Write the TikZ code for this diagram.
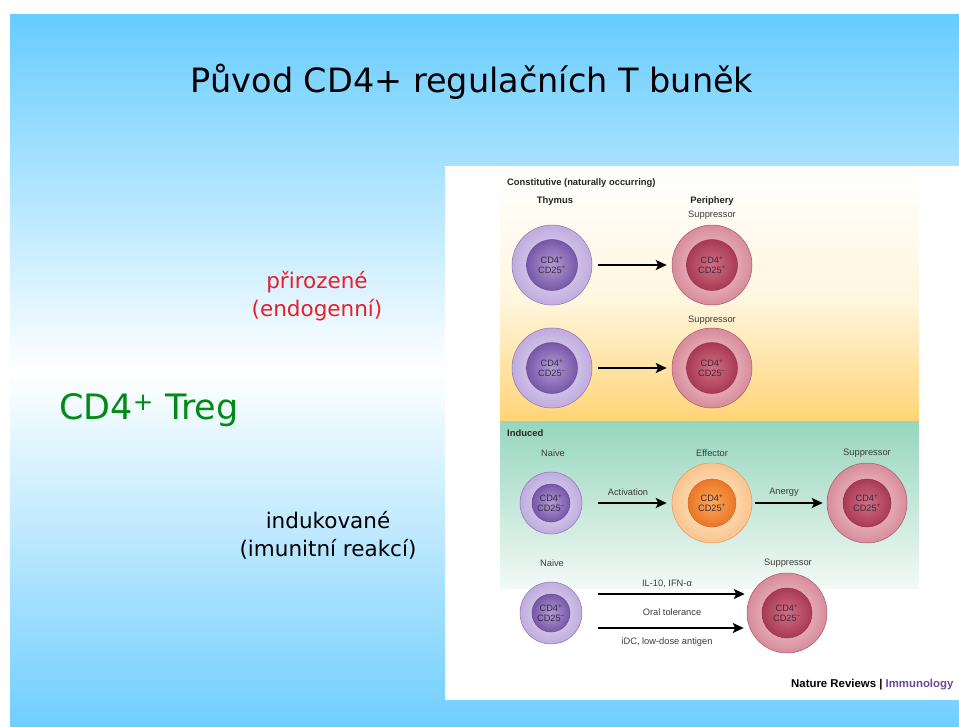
\documentclass[tikz,border=0pt]{standalone}
\usepackage{fontspec}
\setmainfont{DejaVu Sans}
\newfontfamily\arialf{Liberation Sans}
\usetikzlibrary{arrows.meta}
\definecolor{slideblue}{RGB}{102,204,255}
\definecolor{slideblueb}{RGB}{112,206,255}
\definecolor{cream}{RGB}{255,246,222}
\definecolor{panelyellow}{RGB}{255,212,118}
\definecolor{panelgreen}{RGB}{150,214,190}
\definecolor{panelgreenb}{RGB}{243,249,246}
\definecolor{pOutIn}{RGB}{232,222,244}
\definecolor{pOutOut}{RGB}{192,172,222}
\definecolor{pOutDraw}{RGB}{140,115,175}
\definecolor{pInIn}{RGB}{178,155,212}
\definecolor{pInOut}{RGB}{118,88,168}
\definecolor{pInDraw}{RGB}{105,78,150}
\definecolor{rOutIn}{RGB}{246,210,215}
\definecolor{rOutOut}{RGB}{215,140,155}
\definecolor{rOutDraw}{RGB}{170,85,105}
\definecolor{rInIn}{RGB}{210,110,130}
\definecolor{rInOut}{RGB}{168,58,84}
\definecolor{rInDraw}{RGB}{150,50,75}
\definecolor{oOutIn}{RGB}{255,238,212}
\definecolor{oOutOut}{RGB}{250,196,142}
\definecolor{oOutDraw}{RGB}{235,150,80}
\definecolor{oInIn}{RGB}{252,168,92}
\definecolor{oInOut}{RGB}{234,118,38}
\definecolor{oInDraw}{RGB}{215,110,40}
\definecolor{celltxt}{RGB}{55,45,60}
\definecolor{figtxt}{RGB}{60,60,60}
\definecolor{natpurple}{RGB}{110,72,150}
\definecolor{treggreen}{RGB}{0,140,20}
\definecolor{pirored}{RGB}{232,30,40}
\tikzset{
  cell/.style={circle, inner sep=0pt, line width=0.5pt},
  pout/.style={cell, inner color=pOutIn, outer color=pOutOut, draw=pOutDraw},
  rout/.style={cell, inner color=rOutIn, outer color=rOutOut, draw=rOutDraw},
  oout/.style={cell, inner color=oOutIn, outer color=oOutOut, draw=oOutDraw},
  celltext/.style={font=\arialf\fontsize{9.2}{9.6}\selectfont, text=celltxt, align=center},
  pin/.style={cell, celltext, inner color=pInIn, outer color=pInOut, draw=pInDraw},
  rin/.style={cell, celltext, inner color=rInIn, outer color=rInOut, draw=rInDraw},
  oin/.style={cell, celltext, inner color=oInIn, outer color=oInOut, draw=oInDraw},
  figlbl/.style={font=\arialf\fontsize{9.3}{10}\selectfont, text=figtxt, inner sep=0pt},
  figbold/.style={font=\arialf\bfseries\fontsize{9.4}{10}\selectfont, text=black!85, inner sep=0pt},
  arr/.style={line width=1.8pt, -{Stealth[length=11pt,width=10pt,inset=2.5pt]}},
  slidetxt/.style={align=center, inner sep=0pt}
}
\begin{document}
\begin{tikzpicture}[x=1pt,y=-1pt]
\useasboundingbox (0,0) rectangle (959,726);
\fill[white] (0,0) rectangle (959,726);
% slide background
\shade[top color=slideblue, bottom color=white] (10,14) rectangle (959,372);
\shade[top color=white, bottom color=slideblueb] (10,371) rectangle (959,726);
% figure background
\fill[white] (445,166) rectangle (959,700);
\shade[top color=white, bottom color=cream] (500,166) rectangle (919,300);
\shade[top color=cream, bottom color=panelyellow] (500,299.5) rectangle (919,421);
\shade[top color=panelgreen, bottom color=panelgreenb] (500,421) rectangle (919,588);

% title
\node[slidetxt, font=\fontsize{33.5}{38}\selectfont] (title) at (472,82) {Původ CD4+ regulačních T buněk};
% left texts
\node[slidetxt, text=pirored, font=\fontsize{21.5}{28}\selectfont] (piro) at (317,296) {přirozené\\(endogenní)};
\node[slidetxt, text=treggreen, font=\fontsize{35}{40}\selectfont] (treg) at (149,410) {CD4\textsuperscript{+} Treg};
\node[slidetxt, text=black, font=\fontsize{21.5}{28}\selectfont] (indu) at (328,535) {indukované\\(imunitní reakcí)};

% headers
\node[figbold, anchor=west] (hconst) at (507,183) {Constitutive (naturally occurring)};
\node[figbold] (hthym) at (555,201) {Thymus};
\node[figbold] (hperi) at (712,201) {Periphery};
\node[figlbl] (hsup1) at (712,215) {Suppressor};
\node[figlbl] (hsup2) at (712,320) {Suppressor};
\node[figbold, anchor=west] (hind) at (507,433) {Induced};
\node[figlbl] (hnaive3) at (553,453) {Naive};
\node[figlbl] (heff) at (712,453) {Effector};
\node[figlbl] (hsup3) at (867,453) {Suppressor};
\node[figlbl] (hnaive4) at (552,563) {Naive};
\node[figlbl] (hsup4) at (788,563) {Suppressor};

% row 1
\node[pout, minimum size=80pt] (c1a) at (552,265) {};
\node[pin, minimum size=51pt] (n1a) at (c1a) {CD4\textsuperscript{+}\\CD25\textsuperscript{+}};
\node[rout, minimum size=80pt] (c1b) at (712,265) {};
\node[rin, minimum size=51pt] (n1b) at (c1b) {CD4\textsuperscript{+}\\CD25\textsuperscript{+}};
\draw[arr, shorten <=6pt, shorten >=5pt] (c1a) -- (c1b);
% row 2
\node[pout, minimum size=80pt] (c2a) at (552,368) {};
\node[pin, minimum size=51pt] (n2a) at (c2a) {CD4\textsuperscript{+}\\CD25\textsuperscript{–}};
\node[rout, minimum size=80pt] (c2b) at (712,368) {};
\node[rin, minimum size=51pt] (n2b) at (c2b) {CD4\textsuperscript{+}\\CD25\textsuperscript{–}};
\draw[arr, shorten <=6pt, shorten >=5pt] (c2a) -- (c2b);
% row 3
\node[pout, minimum size=62pt] (c3a) at (551,503) {};
\node[pin, minimum size=38pt] (n3a) at (c3a) {CD4\textsuperscript{+}\\CD25\textsuperscript{–}};
\node[oout, minimum size=80pt] (c3b) at (712,503) {};
\node[oin, minimum size=48pt] (n3b) at (c3b) {CD4\textsuperscript{+}\\CD25\textsuperscript{+}};
\node[rout, minimum size=80pt] (c3c) at (867,503) {};
\node[rin, minimum size=48pt] (n3c) at (c3c) {CD4\textsuperscript{+}\\CD25\textsuperscript{+}};
\draw[arr, shorten <=16pt, shorten >=5pt] (c3a) -- (c3b);
\draw[arr, shorten <=3pt, shorten >=4pt] (c3b) -- (c3c);
\node[figlbl] (lact) at (628,492) {Activation};
\node[figlbl] (lanerg) at (784,492) {Anergy};
% row 4
\node[pout, minimum size=62pt] (c4a) at (551,613) {};
\node[pin, minimum size=38pt] (n4a) at (c4a) {CD4\textsuperscript{+}\\CD25\textsuperscript{–}};
\node[rout, minimum size=80pt] (c4b) at (787,613) {};
\node[rin, minimum size=50pt] (n4b) at (c4b) {CD4\textsuperscript{+}\\CD25\textsuperscript{–}};
\draw[arr] ([xshift=16pt,yshift=19pt]c4a.east) -- ([xshift=-2pt,yshift=19pt]c4b.west);
\draw[arr] ([xshift=16pt,yshift=-15pt]c4a.east) -- ([xshift=-3pt,yshift=-15pt]c4b.west);
\node[figlbl] (lil) at (667,584) {IL-10, IFN-α};
\node[figlbl] (loral) at (672,612) {Oral tolerance};
\node[figlbl] (lidc) at (667,642) {iDC, low-dose antigen};

% credit
\node[anchor=west, inner sep=0pt, font=\arialf\bfseries\fontsize{11.4}{12}\selectfont] (credit) at (791,685) {Nature Reviews | \textcolor{natpurple}{Immunology}};
\end{tikzpicture}
\end{document}
